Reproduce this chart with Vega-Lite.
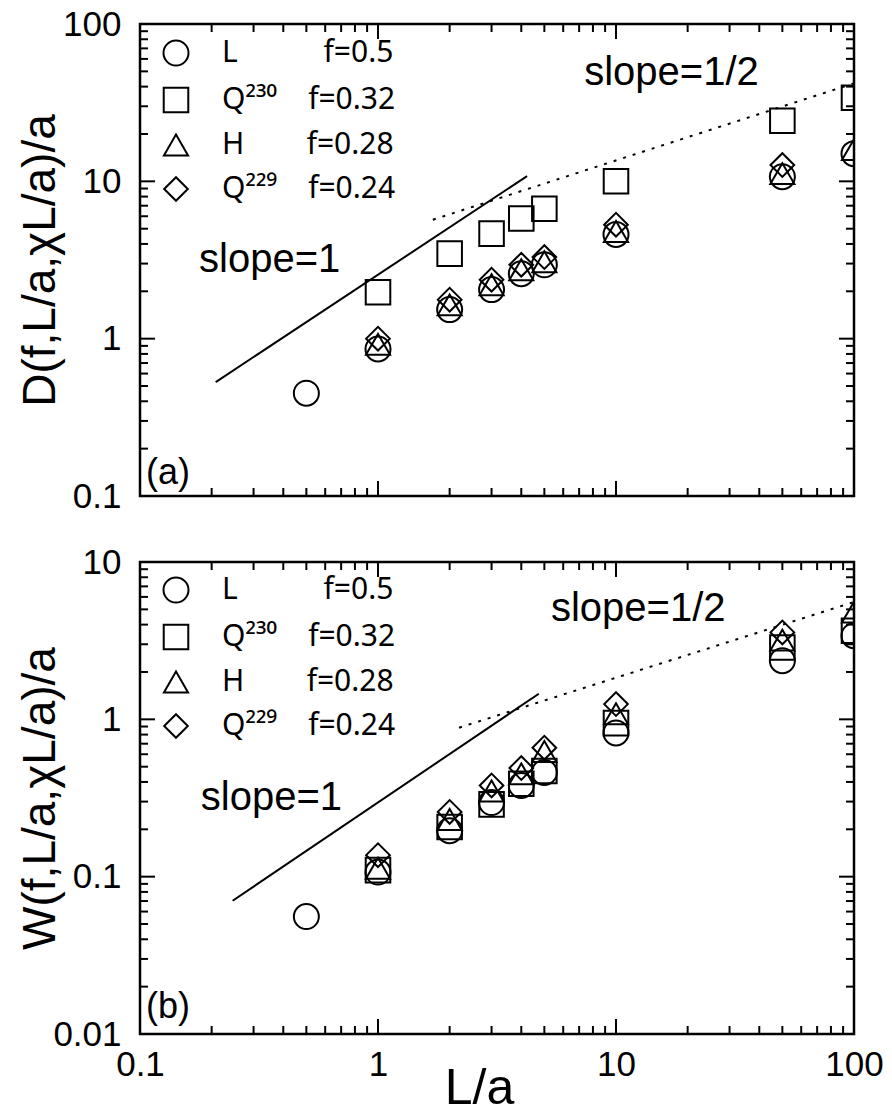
{
  "$schema": "https://vega.github.io/schema/vega-lite/v6.json",
  "padding": {"left": 15, "top": 5, "right": 0, "bottom": 0},
  "spacing": 27,
  "background": "white",
  "config": {
    "font": "Liberation Sans",
    "view": {"stroke": "black", "strokeWidth": 2.5},
    "axis": {"domain": false, "ticks": false, "tickSize": 0, "grid": false, "labelColor": "black", "titleColor": "black", "labelFont": "Liberation Sans", "titleFont": "Liberation Sans", "labelFontSize": 35, "titleFontWeight": "normal", "labelFlush": false, "labelOverlap": false, "labelBound": false},
    "legend": {"labelFont": "Noto Sans", "labelColor": "black", "labelFontSize": 30, "labelLimit": 600, "symbolStrokeWidth": 2, "symbolStrokeColor": "black", "padding": 0}
  },
  "datasets": {
    "tX": [{"t":0.1},{"t":0.2},{"t":0.3},{"t":0.4},{"t":0.5},{"t":0.6},{"t":0.7},{"t":0.8},{"t":0.9},{"t":1},{"t":2},{"t":3},{"t":4},{"t":5},{"t":6},{"t":7},{"t":8},{"t":9},{"t":10},{"t":20},{"t":30},{"t":40},{"t":50},{"t":60},{"t":70},{"t":80},{"t":90},{"t":100}],
    "tYb": [{"t":0.01},{"t":0.02},{"t":0.03},{"t":0.04},{"t":0.05},{"t":0.06},{"t":0.07},{"t":0.08},{"t":0.09},{"t":0.1},{"t":0.2},{"t":0.3},{"t":0.4},{"t":0.5},{"t":0.6},{"t":0.7},{"t":0.8},{"t":0.9},{"t":1},{"t":2},{"t":3},{"t":4},{"t":5},{"t":6},{"t":7},{"t":8},{"t":9},{"t":10}]
  },
  "resolve": {"scale": {"shape": "independent", "size": "independent"}, "legend": {"shape": "independent", "size": "independent"}},
  "vconcat": [
    {
      "width": 714, "height": 472,
      "resolve": {"axis": {"x": "independent", "y": "independent"}},
      "layer": [
        {
          "data": {"name": "tX"},
          "mark": {"type": "point", "shape": "M0,-1L0,1", "filled": false, "stroke": "black", "strokeWidth": 2, "opacity": 1, "clip": true},
          "encoding": {
            "x": {"field": "t", "type": "quantitative", "scale": {"type": "log", "domain": [0.1, 100], "nice": false}, "axis": null},
            "y": {"datum": 0.1, "type": "quantitative", "scale": {"type": "log", "domain": [0.1, 100], "nice": false}, "axis": null},
            "size": {"condition": {"test": "abs(log(datum.t)/LN10 - round(log(datum.t)/LN10)) < 0.001", "value": 900}, "value": 256}
          }
        },
        {
          "data": {"name": "tX"},
          "mark": {"type": "point", "shape": "M0,-1L0,1", "filled": false, "stroke": "black", "strokeWidth": 2, "opacity": 1, "clip": true},
          "encoding": {
            "x": {"field": "t", "type": "quantitative", "scale": {"type": "log", "domain": [0.1, 100], "nice": false}, "axis": null},
            "y": {"datum": 100, "type": "quantitative", "scale": {"type": "log", "domain": [0.1, 100], "nice": false}, "axis": null},
            "size": {"condition": {"test": "abs(log(datum.t)/LN10 - round(log(datum.t)/LN10)) < 0.001", "value": 900}, "value": 256}
          }
        },
        {
          "data": {"name": "tX"},
          "mark": {"type": "point", "shape": "M-1,0L1,0", "filled": false, "stroke": "black", "strokeWidth": 2, "opacity": 1, "clip": true},
          "encoding": {
            "y": {"field": "t", "type": "quantitative", "scale": {"type": "log", "domain": [0.1, 100], "nice": false}, "axis": null},
            "x": {"datum": 0.1, "type": "quantitative", "scale": {"type": "log", "domain": [0.1, 100], "nice": false}, "axis": null},
            "size": {"condition": {"test": "abs(log(datum.t)/LN10 - round(log(datum.t)/LN10)) < 0.001", "value": 900}, "value": 256}
          }
        },
        {
          "data": {"name": "tX"},
          "mark": {"type": "point", "shape": "M-1,0L1,0", "filled": false, "stroke": "black", "strokeWidth": 2, "opacity": 1, "clip": true},
          "encoding": {
            "y": {"field": "t", "type": "quantitative", "scale": {"type": "log", "domain": [0.1, 100], "nice": false}, "axis": null},
            "x": {"datum": 100, "type": "quantitative", "scale": {"type": "log", "domain": [0.1, 100], "nice": false}, "axis": null},
            "size": {"condition": {"test": "abs(log(datum.t)/LN10 - round(log(datum.t)/LN10)) < 0.001", "value": 900}, "value": 256}
          }
        },
        {
          "data": {"values": [
            {"La": 0.5, "val": 0.45, "series": "L"},
            {"La": 1, "val": 0.86, "series": "L"},
            {"La": 2, "val": 1.53, "series": "L"},
            {"La": 3, "val": 2.05, "series": "L"},
            {"La": 4, "val": 2.59, "series": "L"},
            {"La": 5, "val": 2.95, "series": "L"},
            {"La": 10, "val": 4.6, "series": "L"},
            {"La": 50, "val": 10.7, "series": "L"},
            {"La": 100, "val": 15.0, "series": "L"},
            {"La": 1, "val": 1.97, "series": "Q230"},
            {"La": 2, "val": 3.47, "series": "Q230"},
            {"La": 3, "val": 4.65, "series": "Q230"},
            {"La": 4, "val": 5.8, "series": "Q230"},
            {"La": 5, "val": 6.7, "series": "Q230"},
            {"La": 10, "val": 10.0, "series": "Q230"},
            {"La": 50, "val": 24.3, "series": "Q230"},
            {"La": 100, "val": 34.0, "series": "Q230"},
            {"La": 1, "val": 0.92, "series": "H"},
            {"La": 2, "val": 1.64, "series": "H"},
            {"La": 3, "val": 2.2, "series": "H"},
            {"La": 4, "val": 2.74, "series": "H"},
            {"La": 5, "val": 3.08, "series": "H"},
            {"La": 10, "val": 4.8, "series": "H"},
            {"La": 50, "val": 11.2, "series": "H"},
            {"La": 100, "val": 15.9, "series": "H"},
            {"La": 1, "val": 1.0, "series": "Q229"},
            {"La": 2, "val": 1.77, "series": "Q229"},
            {"La": 3, "val": 2.37, "series": "Q229"},
            {"La": 4, "val": 2.95, "series": "Q229"},
            {"La": 5, "val": 3.3, "series": "Q229"},
            {"La": 10, "val": 5.3, "series": "Q229"},
            {"La": 50, "val": 12.7, "series": "Q229"}
          ]},
          "mark": {"type": "point", "filled": false, "stroke": "black", "strokeWidth": 2, "opacity": 1, "clip": true},
          "encoding": {
            "x": {"field": "La", "type": "quantitative", "scale": {"type": "log", "domain": [0.1, 100], "nice": false},
                  "axis": {"orient": "bottom", "values": [0.1, 1, 10, 100], "labels": false, "title": null}},
            "y": {"field": "val", "type": "quantitative", "scale": {"type": "log", "domain": [0.1, 100], "nice": false},
                  "axis": {"orient": "left", "values": [0.1, 1, 10, 100], "format": "~g", "labelPadding": 19,
                           "title": "D(f,L/a,χL/a)/a", "titleFontSize": 46, "titleBaseline": "alphabetic", "titlePadding": 6, "minExtent": 80, "maxExtent": 80}},
            "shape": {"field": "series", "type": "ordinal",
                      "scale": {"domain": ["L", "Q230", "H", "Q229"], "range": ["circle", "square", "triangle-up", "diamond"]},
                      "legend": {"orient": "none", "legendX": 21, "legendY": 14, "title": null, "rowPadding": 13, "labelOffset": 31,
                                 "labelExpr": "datum.label == 'L' ? 'L\u00a0\u00a0\u00a0\u00a0\u00a0\u00a0\u00a0\u00a0\u00a0\u00a0\u00a0f=0.5' : datum.label == 'Q230' ? 'Q\u00b2\u00b3\u2070\u00a0\u00a0\u00a0\u00a0f=0.32' : datum.label == 'H' ? 'H\u00a0\u00a0\u00a0\u00a0\u00a0\u00a0\u00a0\u00a0f=0.28' : 'Q\u00b2\u00b2\u2079\u00a0\u00a0\u00a0\u00a0f=0.24'"}},
            "size": {"field": "series", "type": "ordinal",
                     "scale": {"domain": ["L", "Q230", "H", "Q229"], "range": [625, 560, 1000, 1089]},
                     "legend": {"orient": "none", "legendX": 21, "legendY": 14, "title": null, "rowPadding": 13, "labelOffset": 31,
                                "labelExpr": "datum.label == 'L' ? 'L\u00a0\u00a0\u00a0\u00a0\u00a0\u00a0\u00a0\u00a0\u00a0\u00a0\u00a0f=0.5' : datum.label == 'Q230' ? 'Q\u00b2\u00b3\u2070\u00a0\u00a0\u00a0\u00a0f=0.32' : datum.label == 'H' ? 'H\u00a0\u00a0\u00a0\u00a0\u00a0\u00a0\u00a0\u00a0f=0.28' : 'Q\u00b2\u00b2\u2079\u00a0\u00a0\u00a0\u00a0f=0.24'"}}
          }
        },
        {
          "data": {"values": [{"La": 0.208, "val": 0.53}, {"La": 4.23, "val": 10.8}]},
          "mark": {"type": "line", "color": "black", "strokeWidth": 2, "clip": true},
          "encoding": {
            "x": {"field": "La", "type": "quantitative", "scale": {"type": "log", "domain": [0.1, 100], "nice": false}, "axis": null},
            "y": {"field": "val", "type": "quantitative", "scale": {"type": "log", "domain": [0.1, 100], "nice": false}, "axis": null}
          }
        },
        {
          "data": {"values": [{"La": 1.7, "val": 5.7}, {"La": 100, "val": 42}]},
          "mark": {"type": "line", "color": "black", "strokeWidth": 2, "strokeDash": [3, 7], "clip": true},
          "encoding": {
            "x": {"field": "La", "type": "quantitative", "scale": {"type": "log", "domain": [0.1, 100], "nice": false}, "axis": null},
            "y": {"field": "val", "type": "quantitative", "scale": {"type": "log", "domain": [0.1, 100], "nice": false}, "axis": null}
          }
        },
        {
          "data": {"values": [{"La": 0.177, "val": 2.67, "label": "slope=1"}, {"La": 7.35, "val": 41.2, "label": "slope=1/2"}]},
          "mark": {"type": "text", "align": "left", "baseline": "alphabetic", "fontSize": 40, "color": "black"},
          "encoding": {
            "x": {"field": "La", "type": "quantitative", "scale": {"type": "log", "domain": [0.1, 100], "nice": false}, "axis": null},
            "y": {"field": "val", "type": "quantitative", "scale": {"type": "log", "domain": [0.1, 100], "nice": false}, "axis": null},
            "text": {"field": "label"}
          }
        },
        {
          "data": {"values": [{"La": 0.106, "val": 0.1197, "label": "(a)"}]},
          "mark": {"type": "text", "align": "left", "baseline": "alphabetic", "fontSize": 36, "color": "black"},
          "encoding": {
            "x": {"field": "La", "type": "quantitative", "scale": {"type": "log", "domain": [0.1, 100], "nice": false}, "axis": null},
            "y": {"field": "val", "type": "quantitative", "scale": {"type": "log", "domain": [0.1, 100], "nice": false}, "axis": null},
            "text": {"field": "label"}
          }
        }
      ]
    },
    {
      "width": 714, "height": 472,
      "resolve": {"axis": {"x": "independent", "y": "independent"}},
      "layer": [
        {
          "data": {"name": "tX"},
          "mark": {"type": "point", "shape": "M0,-1L0,1", "filled": false, "stroke": "black", "strokeWidth": 2, "opacity": 1, "clip": true},
          "encoding": {
            "x": {"field": "t", "type": "quantitative", "scale": {"type": "log", "domain": [0.1, 100], "nice": false}, "axis": null},
            "y": {"datum": 0.01, "type": "quantitative", "scale": {"type": "log", "domain": [0.01, 10], "nice": false}, "axis": null},
            "size": {"condition": {"test": "abs(log(datum.t)/LN10 - round(log(datum.t)/LN10)) < 0.001", "value": 900}, "value": 256}
          }
        },
        {
          "data": {"name": "tX"},
          "mark": {"type": "point", "shape": "M0,-1L0,1", "filled": false, "stroke": "black", "strokeWidth": 2, "opacity": 1, "clip": true},
          "encoding": {
            "x": {"field": "t", "type": "quantitative", "scale": {"type": "log", "domain": [0.1, 100], "nice": false}, "axis": null},
            "y": {"datum": 10, "type": "quantitative", "scale": {"type": "log", "domain": [0.01, 10], "nice": false}, "axis": null},
            "size": {"condition": {"test": "abs(log(datum.t)/LN10 - round(log(datum.t)/LN10)) < 0.001", "value": 900}, "value": 256}
          }
        },
        {
          "data": {"name": "tYb"},
          "mark": {"type": "point", "shape": "M-1,0L1,0", "filled": false, "stroke": "black", "strokeWidth": 2, "opacity": 1, "clip": true},
          "encoding": {
            "y": {"field": "t", "type": "quantitative", "scale": {"type": "log", "domain": [0.01, 10], "nice": false}, "axis": null},
            "x": {"datum": 0.1, "type": "quantitative", "scale": {"type": "log", "domain": [0.1, 100], "nice": false}, "axis": null},
            "size": {"condition": {"test": "abs(log(datum.t)/LN10 - round(log(datum.t)/LN10)) < 0.001", "value": 900}, "value": 256}
          }
        },
        {
          "data": {"name": "tYb"},
          "mark": {"type": "point", "shape": "M-1,0L1,0", "filled": false, "stroke": "black", "strokeWidth": 2, "opacity": 1, "clip": true},
          "encoding": {
            "y": {"field": "t", "type": "quantitative", "scale": {"type": "log", "domain": [0.01, 10], "nice": false}, "axis": null},
            "x": {"datum": 100, "type": "quantitative", "scale": {"type": "log", "domain": [0.1, 100], "nice": false}, "axis": null},
            "size": {"condition": {"test": "abs(log(datum.t)/LN10 - round(log(datum.t)/LN10)) < 0.001", "value": 900}, "value": 256}
          }
        },
        {
          "data": {"values": [
            {"La": 0.5, "val": 0.0558, "series": "L"},
            {"La": 1, "val": 0.107, "series": "L"},
            {"La": 2, "val": 0.196, "series": "L"},
            {"La": 3, "val": 0.296, "series": "L"},
            {"La": 4, "val": 0.38, "series": "L"},
            {"La": 5, "val": 0.46, "series": "L"},
            {"La": 10, "val": 0.82, "series": "L"},
            {"La": 50, "val": 2.36, "series": "L"},
            {"La": 100, "val": 3.4, "series": "L"},
            {"La": 1, "val": 0.11, "series": "Q230"},
            {"La": 2, "val": 0.207, "series": "Q230"},
            {"La": 3, "val": 0.288, "series": "Q230"},
            {"La": 4, "val": 0.39, "series": "Q230"},
            {"La": 5, "val": 0.47, "series": "Q230"},
            {"La": 10, "val": 0.946, "series": "Q230"},
            {"La": 50, "val": 2.86, "series": "Q230"},
            {"La": 100, "val": 3.66, "series": "Q230"},
            {"La": 1, "val": 0.113, "series": "H"},
            {"La": 2, "val": 0.231, "series": "H"},
            {"La": 3, "val": 0.35, "series": "H"},
            {"La": 4, "val": 0.45, "series": "H"},
            {"La": 5, "val": 0.625, "series": "H"},
            {"La": 10, "val": 1.086, "series": "H"},
            {"La": 50, "val": 3.19, "series": "H"},
            {"La": 100, "val": 4.8, "series": "H"},
            {"La": 1, "val": 0.137, "series": "Q229"},
            {"La": 2, "val": 0.258, "series": "Q229"},
            {"La": 3, "val": 0.38, "series": "Q229"},
            {"La": 4, "val": 0.49, "series": "Q229"},
            {"La": 5, "val": 0.66, "series": "Q229"},
            {"La": 10, "val": 1.25, "series": "Q229"},
            {"La": 50, "val": 3.57, "series": "Q229"}
          ]},
          "mark": {"type": "point", "filled": false, "stroke": "black", "strokeWidth": 2, "opacity": 1, "clip": true},
          "encoding": {
            "x": {"field": "La", "type": "quantitative", "scale": {"type": "log", "domain": [0.1, 100], "nice": false},
                  "axis": {"orient": "bottom", "values": [0.1, 1, 10, 100], "format": "~g", "labelPadding": 13,
                           "title": "L/a", "titleFontSize": 50, "titleBaseline": "alphabetic", "titleX": 339, "titleY": 69}},
            "y": {"field": "val", "type": "quantitative", "scale": {"type": "log", "domain": [0.01, 10], "nice": false},
                  "axis": {"orient": "left", "values": [0.01, 0.1, 1, 10], "format": "~g", "labelPadding": 19,
                           "title": "W(f,L/a,χL/a)/a", "titleFontSize": 46, "titleBaseline": "alphabetic", "titlePadding": 6, "minExtent": 80, "maxExtent": 80}},
            "shape": {"field": "series", "type": "ordinal",
                      "scale": {"domain": ["L", "Q230", "H", "Q229"], "range": ["circle", "square", "triangle-up", "diamond"]},
                      "legend": {"orient": "none", "legendX": 21, "legendY": 13, "title": null, "rowPadding": 13, "labelOffset": 31,
                                 "labelExpr": "datum.label == 'L' ? 'L\u00a0\u00a0\u00a0\u00a0\u00a0\u00a0\u00a0\u00a0\u00a0\u00a0\u00a0f=0.5' : datum.label == 'Q230' ? 'Q\u00b2\u00b3\u2070\u00a0\u00a0\u00a0\u00a0f=0.32' : datum.label == 'H' ? 'H\u00a0\u00a0\u00a0\u00a0\u00a0\u00a0\u00a0\u00a0f=0.28' : 'Q\u00b2\u00b2\u2079\u00a0\u00a0\u00a0\u00a0f=0.24'"}},
            "size": {"field": "series", "type": "ordinal",
                     "scale": {"domain": ["L", "Q230", "H", "Q229"], "range": [625, 560, 1000, 1089]},
                     "legend": {"orient": "none", "legendX": 21, "legendY": 13, "title": null, "rowPadding": 13, "labelOffset": 31,
                                "labelExpr": "datum.label == 'L' ? 'L\u00a0\u00a0\u00a0\u00a0\u00a0\u00a0\u00a0\u00a0\u00a0\u00a0\u00a0f=0.5' : datum.label == 'Q230' ? 'Q\u00b2\u00b3\u2070\u00a0\u00a0\u00a0\u00a0f=0.32' : datum.label == 'H' ? 'H\u00a0\u00a0\u00a0\u00a0\u00a0\u00a0\u00a0\u00a0f=0.28' : 'Q\u00b2\u00b2\u2079\u00a0\u00a0\u00a0\u00a0f=0.24'"}}
          }
        },
        {
          "data": {"values": [{"La": 0.245, "val": 0.0703}, {"La": 4.74, "val": 1.455}]},
          "mark": {"type": "line", "color": "black", "strokeWidth": 2, "clip": true},
          "encoding": {
            "x": {"field": "La", "type": "quantitative", "scale": {"type": "log", "domain": [0.1, 100], "nice": false}, "axis": null},
            "y": {"field": "val", "type": "quantitative", "scale": {"type": "log", "domain": [0.01, 10], "nice": false}, "axis": null}
          }
        },
        {
          "data": {"values": [{"La": 2.19, "val": 0.885}, {"La": 100, "val": 5.57}]},
          "mark": {"type": "line", "color": "black", "strokeWidth": 2, "strokeDash": [3, 7], "clip": true},
          "encoding": {
            "x": {"field": "La", "type": "quantitative", "scale": {"type": "log", "domain": [0.1, 100], "nice": false}, "axis": null},
            "y": {"field": "val", "type": "quantitative", "scale": {"type": "log", "domain": [0.01, 10], "nice": false}, "axis": null}
          }
        },
        {
          "data": {"values": [{"La": 0.18, "val": 0.265, "label": "slope=1"}, {"La": 5.33, "val": 4.22, "label": "slope=1/2"}]},
          "mark": {"type": "text", "align": "left", "baseline": "alphabetic", "fontSize": 40, "color": "black"},
          "encoding": {
            "x": {"field": "La", "type": "quantitative", "scale": {"type": "log", "domain": [0.1, 100], "nice": false}, "axis": null},
            "y": {"field": "val", "type": "quantitative", "scale": {"type": "log", "domain": [0.01, 10], "nice": false}, "axis": null},
            "text": {"field": "label"}
          }
        },
        {
          "data": {"values": [{"La": 0.106, "val": 0.01268, "label": "(b)"}]},
          "mark": {"type": "text", "align": "left", "baseline": "alphabetic", "fontSize": 36, "color": "black"},
          "encoding": {
            "x": {"field": "La", "type": "quantitative", "scale": {"type": "log", "domain": [0.1, 100], "nice": false}, "axis": null},
            "y": {"field": "val", "type": "quantitative", "scale": {"type": "log", "domain": [0.01, 10], "nice": false}, "axis": null},
            "text": {"field": "label"}
          }
        }
      ]
    }
  ]
}
